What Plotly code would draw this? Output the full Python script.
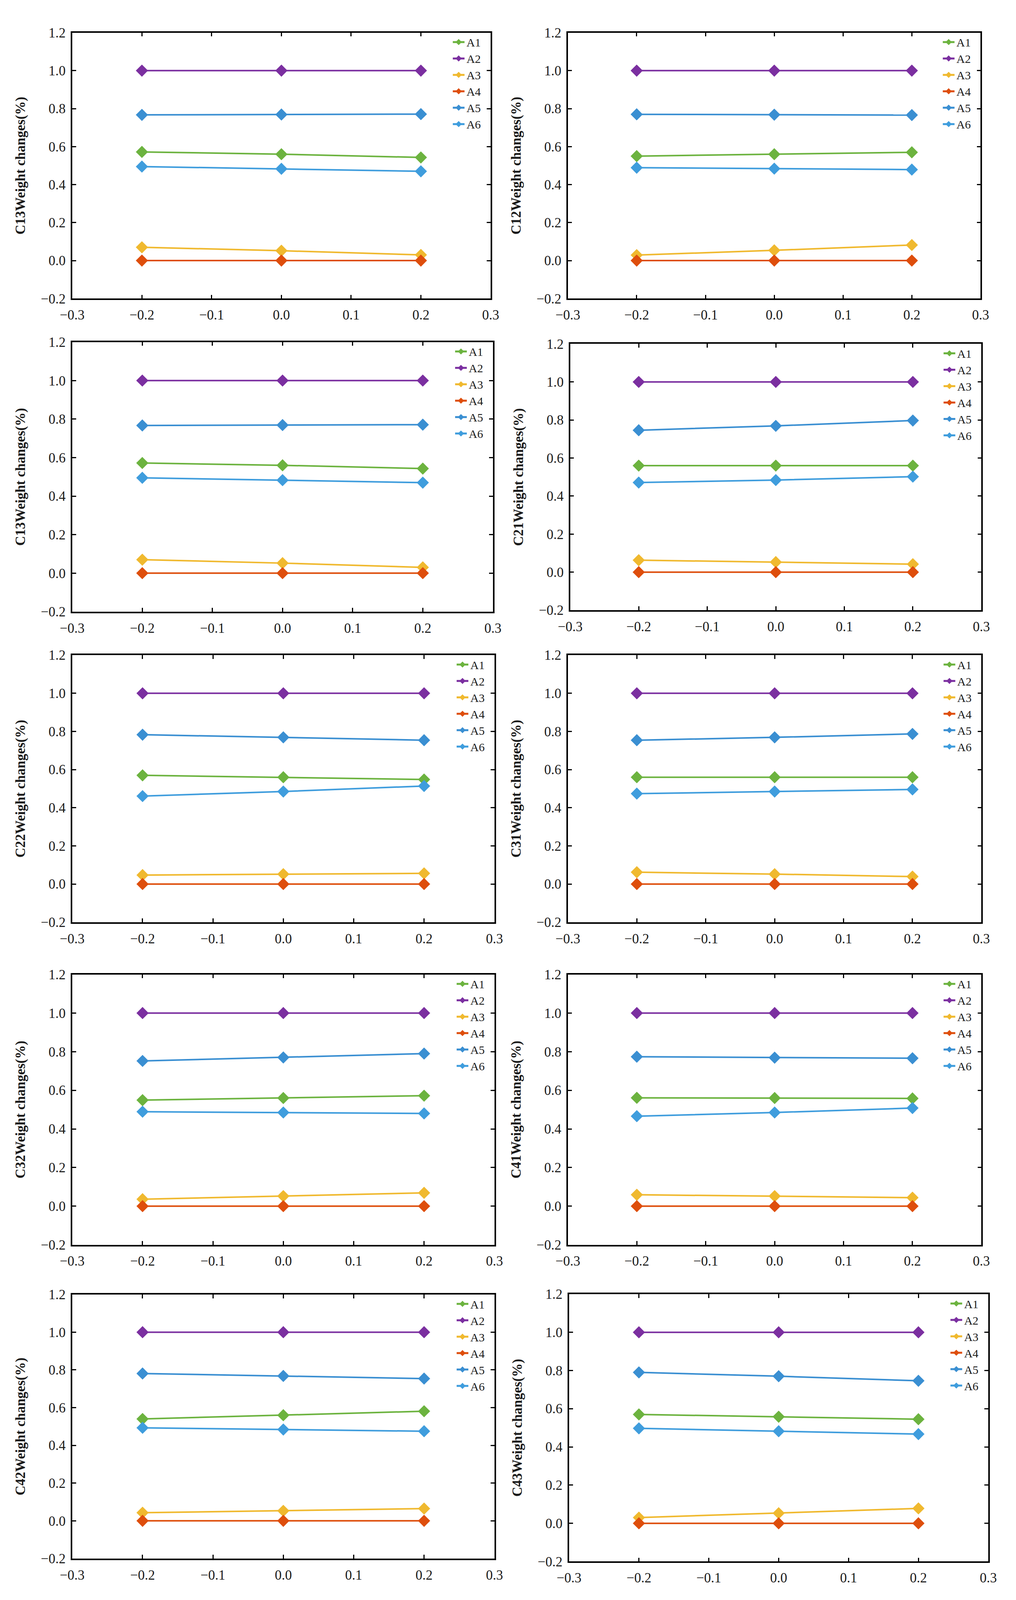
import plotly.graph_objects as go

# ---------------- data ----------------
x_values = [-0.2, 0.0, 0.2]
panel_names = ["C13", "C12", "C13", "C21", "C22", "C31", "C32", "C41", "C42", "C43"]
series_names = ["A1", "A2", "A3", "A4", "A5", "A6"]

A1_vals = [
    [0.572, 0.560, 0.543],
    [0.550, 0.560, 0.570],
    [0.572, 0.560, 0.543],
    [0.560, 0.560, 0.560],
    [0.570, 0.560, 0.548],
    [0.560, 0.560, 0.560],
    [0.549, 0.560, 0.572],
    [0.561, 0.560, 0.558],
    [0.540, 0.560, 0.581],
    [0.570, 0.558, 0.545],
]
A2_vals = [[1.0, 1.0, 1.0] for _ in range(10)]
A3_vals = [
    [0.070, 0.052, 0.030],
    [0.029, 0.054, 0.082],
    [0.070, 0.052, 0.030],
    [0.063, 0.053, 0.042],
    [0.047, 0.052, 0.056],
    [0.062, 0.052, 0.039],
    [0.036, 0.052, 0.069],
    [0.059, 0.052, 0.044],
    [0.043, 0.053, 0.065],
    [0.030, 0.053, 0.078],
]
A4_vals = [[0.0, 0.0, 0.0] for _ in range(10)]
A5_vals = [
    [0.767, 0.769, 0.771],
    [0.770, 0.768, 0.766],
    [0.767, 0.769, 0.771],
    [0.746, 0.769, 0.797],
    [0.783, 0.769, 0.754],
    [0.754, 0.769, 0.787],
    [0.752, 0.770, 0.790],
    [0.774, 0.769, 0.766],
    [0.781, 0.768, 0.754],
    [0.790, 0.770, 0.746],
]
A6_vals = [
    [0.495, 0.483, 0.470],
    [0.489, 0.484, 0.479],
    [0.495, 0.483, 0.470],
    [0.471, 0.484, 0.502],
    [0.461, 0.485, 0.514],
    [0.474, 0.485, 0.496],
    [0.489, 0.485, 0.480],
    [0.466, 0.485, 0.508],
    [0.493, 0.484, 0.475],
    [0.497, 0.482, 0.467],
]
x_ticks = [-0.3, -0.2, -0.1, 0.0, 0.1, 0.2, 0.3]
y_ticks = [-0.2, 0.0, 0.2, 0.4, 0.6, 0.8, 1.0, 1.2]

# ---------------- style ----------------
colors = ["#6cb33f", "#7b2fa0", "#f0b92f", "#de4e0c", "#3a8fd2", "#3f9ddd"]
all_series = [A1_vals, A2_vals, A3_vals, A4_vals, A5_vals, A6_vals]

W, H = 2601, 4338
# panel boxes in reference pixels: (left, right, top, bottom)
boxes = [
    (156, 1250, 69, 797), (1452, 2531, 69, 797),
    (156, 1256, 916, 1654), (1458, 2533, 921, 1650),
    (156, 1260, 1773, 2504), (1452, 2533, 1773, 2504),
    (156, 1260, 2647, 3387), (1452, 2533, 2647, 3387),
    (156, 1260, 3523, 4246), (1455, 2551, 3522, 4254),
]
FONT = "Liberation Serif"
TXT = "#1a1a1a"

fig = go.Figure()
layout = dict(
    width=W, height=H,
    margin=dict(l=0, r=0, t=0, b=0),
    paper_bgcolor="white", plot_bgcolor="white",
    font=dict(family=FONT, size=34, color=TXT),
)

for p, name in enumerate(panel_names):
    k = p + 1
    xa = "x" if k == 1 else f"x{k}"
    ya = "y" if k == 1 else f"y{k}"
    lg = "legend" if k == 1 else f"legend{k}"
    for s, sname in enumerate(series_names):
        fig.add_trace(go.Scatter(
            x=x_values, y=all_series[s][p], name=sname,
            mode="lines+markers",
            line=dict(color=colors[s], width=4),
            marker=dict(symbol="diamond", size=24, color=colors[s]),
            xaxis=xa, yaxis=ya, legend=lg, showlegend=True,
        ))
    x0, x1, y0, y1 = boxes[p]
    axcommon = dict(
        showline=True, linecolor="black", linewidth=3.5, mirror="allticks",
        ticks="inside", ticklen=10, tickwidth=2.5, tickcolor="black",
        showgrid=False, zeroline=False, tickformat=".1f",
        tickfont=dict(family=FONT, size=35, color=TXT),
    )
    layout[f"xaxis{'' if k == 1 else k}"] = dict(
        axcommon, domain=[x0 / W, x1 / W], anchor=ya,
        range=[-0.3, 0.3], tickvals=x_ticks, ticklabelstandoff=8,
    )
    layout[f"yaxis{'' if k == 1 else k}"] = dict(
        axcommon, domain=[1 - y1 / H, 1 - y0 / H], anchor=xa,
        range=[-0.2, 1.2], tickvals=y_ticks, ticklabelstandoff=6,
        title=dict(text=f"<b>{name}Weight changes(%)</b>",
                   font=dict(family=FONT, size=35, color=TXT),
                   standoff=30),
    )
    layout[lg] = dict(
        x=(x1 - 104) / W, y=1 - (y0 - 2) / H, xanchor="left", yanchor="top",
        bgcolor="rgba(0,0,0,0)", borderwidth=0,
        font=dict(family=FONT, size=30, color=TXT),
        itemsizing="constant", tracegroupgap=0,
    )

fig.update_layout(**layout)

fit_js = (
    "document.documentElement.style.margin='0';"
    "document.documentElement.style.overflow='hidden';"
    "document.body.style.margin='0';"
    "document.body.style.overflow='hidden';"
    "var gd=document.getElementById('{plot_id}');"
    "Plotly.relayout(gd,{width:window.innerWidth,height:window.innerHeight});"
)
fig.write_html("out.html", post_script=fit_js, config={"displayModeBar": False})
